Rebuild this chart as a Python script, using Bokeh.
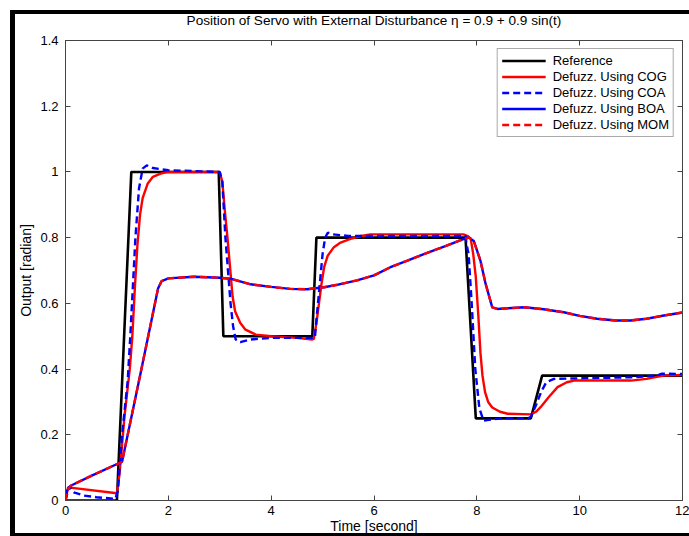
from bokeh.plotting import figure
from bokeh.models import FixedTicker, LinearAxis, Legend, LegendItem
from bokeh.embed import file_html
from bokeh.resources import INLINE

# ---------------- data ----------------
title_text = "Position of Servo with External Disturbance \u03b7 = 0.9 + 0.9 sin(t)"
x_label = "Time [second]"
y_label = "Output [radian]"
x_ticks = [0, 2, 4, 6, 8, 10, 12]
y_ticks = [0, 0.2, 0.4, 0.6, 0.8, 1.0, 1.2, 1.4]
y_tick_labels = ["0", "0.2", "0.4", "0.6", "0.8", "1", "1.2", "1.4"]
series_names = ["Reference", "Defuzz. Using COG", "Defuzz. Using COA",
                "Defuzz. Using BOA", "Defuzz. Using MOM"]

t_ref = [0, 1.0, 1.28, 2.98, 3.07, 4.80, 4.88, 7.78, 7.98, 9.05, 9.27, 12]
y_ref = [0, 0, 1.0, 1.0, 0.5, 0.5, 0.8, 0.8, 0.25, 0.25, 0.38, 0.38]

t_cog = [0, 0.05, 1.0, 1.05, 1.1, 1.15, 1.2, 1.25, 1.3, 1.35, 1.4, 1.45, 1.5,
         1.6, 1.7, 1.85, 2.0, 3.0, 3.05, 3.1, 3.15, 3.2, 3.25, 3.3, 3.4, 3.5,
         3.7, 4.0, 4.5, 4.8, 4.83, 4.88, 4.93, 4.98, 5.03, 5.1, 5.22, 5.35,
         5.54, 5.75, 5.93, 7.74, 7.82, 7.88, 7.93, 7.98, 8.03, 8.07, 8.11,
         8.16, 8.22, 8.3, 8.45, 8.6, 9.05, 9.15, 9.24, 9.4, 9.57, 9.75, 9.89,
         11.0, 11.3, 11.63, 12]
y_cog = [0, 0.04, 0.022, 0.08, 0.17, 0.26, 0.33, 0.40, 0.5, 0.65, 0.78, 0.87,
         0.92, 0.965, 0.985, 0.995, 1.0, 1.0, 0.97, 0.88, 0.8, 0.71, 0.62,
         0.575, 0.54, 0.52, 0.505, 0.5, 0.495, 0.49, 0.492, 0.54, 0.6, 0.66,
         0.71, 0.745, 0.771, 0.785, 0.796, 0.805, 0.81, 0.81, 0.805, 0.797,
         0.75, 0.68, 0.56, 0.45, 0.38, 0.33, 0.30, 0.283, 0.27, 0.264, 0.262,
         0.27, 0.284, 0.315, 0.345, 0.36, 0.365, 0.365, 0.37, 0.38, 0.382]

t_coa = [0, 0.07, 0.16, 0.36, 0.6, 0.97, 1.02, 1.1, 1.21, 1.26, 1.31, 1.36,
         1.43, 1.5, 1.58, 1.7, 2.0, 3.0, 3.05, 3.11, 3.16, 3.21, 3.26, 3.31,
         3.4, 3.6, 4.0, 4.85, 4.88, 4.94, 5.0, 5.05, 5.1, 5.2, 5.5, 7.78, 7.8,
         7.84, 7.9, 7.97, 8.05, 8.13, 8.2, 8.5, 9.0, 9.05, 9.15, 9.25, 9.35,
         9.5, 10.0, 11.0, 11.5, 11.6, 12]
y_coa = [0, 0.043, 0.025, 0.015, 0.01, 0.005, 0.03, 0.2, 0.365, 0.5, 0.65,
         0.8, 0.95, 1.01, 1.02, 1.012, 1.005, 1.0, 0.97, 0.8, 0.7, 0.6, 0.53,
         0.49, 0.482, 0.49, 0.495, 0.495, 0.55, 0.65, 0.75, 0.8, 0.815, 0.81,
         0.805, 0.805, 0.78, 0.75, 0.6, 0.4, 0.28, 0.243, 0.245, 0.25, 0.25,
         0.255, 0.29, 0.33, 0.36, 0.37, 0.372, 0.375, 0.38, 0.386, 0.385]

t_slow = [0, 0.03, 0.1, 0.5, 1.1, 1.45, 1.8, 1.87, 2.0, 2.5, 3.0, 3.21, 3.6,
          4.0, 4.37, 4.7, 5.03, 5.3, 5.67, 6.0, 6.32, 6.65, 6.97, 7.4, 7.75,
          7.85, 7.94, 8.07, 8.17, 8.3, 8.4, 8.6, 8.92, 9.3, 9.69, 10.0, 10.34,
          10.7, 10.99, 11.3, 11.64, 12]
y_boa = [0, 0.03, 0.045, 0.075, 0.118, 0.38, 0.645, 0.668, 0.676, 0.681,
         0.678, 0.675, 0.658, 0.65, 0.644, 0.643, 0.649, 0.657, 0.67, 0.685,
         0.71, 0.73, 0.75, 0.775, 0.796, 0.80, 0.79, 0.73, 0.66, 0.588, 0.583,
         0.585, 0.588, 0.582, 0.573, 0.562, 0.553, 0.548, 0.548, 0.553, 0.563,
         0.572]
y_mom = list(y_boa)

# ---------------- figure ----------------
FONT = "Liberation Sans"
p = figure(width=689, height=536, x_range=(0, 12), y_range=(0, 1.4),
           output_backend="svg", toolbar_location=None,
           min_border_left=65, min_border_right=7, min_border_top=40,
           min_border_bottom=36, title=title_text)
# black window frame drawn as CSS background behind a transparent border area
bar = "linear-gradient(#000, #000)"
p.styles = {"background": ", ".join([
    f"{bar} 10px 10px / 5px 526px no-repeat",
    f"{bar} 10px 10px / 679px 4px no-repeat",
    f"{bar} 10px 533px / 679px 3px no-repeat",
    "#ffffff"])}
p.border_fill_color = None
p.background_fill_color = "white"

p.title.align = "center"
p.title.vertical_align = "top"
p.title.standoff = 22
p.title.text_font = FONT
p.title.text_font_size = "13.6px"
p.title.text_font_style = "normal"
p.title.text_color = "black"

p.xgrid.visible = False
p.ygrid.visible = False
p.outline_line_color = "#444444"
p.outline_line_width = 1

def style_axis(ax, labels=True):
    ax.major_tick_in = 5
    ax.major_tick_out = 0
    ax.minor_tick_line_color = None
    ax.axis_line_color = "#444444"
    ax.major_tick_line_color = "#444444"
    ax.major_label_text_font = FONT
    if labels:
        ax.major_label_text_font_size = "13px"
        ax.major_label_text_color = "black"
    else:
        ax.major_label_text_font_size = "1px"
        ax.major_label_text_color = None
        ax.major_label_standoff = 0

xa = p.xaxis[0]
ya = p.yaxis[0]
xa.ticker = FixedTicker(ticks=x_ticks)
ya.ticker = FixedTicker(ticks=y_ticks)
ya.major_label_overrides = {v: s for v, s in zip(y_ticks, y_tick_labels)}
style_axis(xa)
style_axis(ya)
xa.major_label_standoff = 5
ya.major_label_standoff = 7
xa.axis_label = x_label
ya.axis_label = y_label
for ax in (xa, ya):
    ax.axis_label_text_font = FONT
    ax.axis_label_text_font_size = "14px"
    ax.axis_label_text_font_style = "normal"
    ax.axis_label_text_color = "black"
xa.axis_label_standoff = 0
ya.axis_label_standoff = 3

top_axis = LinearAxis(ticker=FixedTicker(ticks=x_ticks))
style_axis(top_axis, labels=False)
p.add_layout(top_axis, "above")
right_axis = LinearAxis(ticker=FixedTicker(ticks=y_ticks))
style_axis(right_axis, labels=False)
p.add_layout(right_axis, "right")

DASH = "7 4"
r_ref = p.line(t_ref, y_ref, line_color="black", line_width=2.6)
r_cog = p.line(t_cog, y_cog, line_color="#ff0000", line_width=2.4)
r_coa = p.line(t_coa, y_coa, line_color="#0000ff", line_width=2.4, line_dash=DASH)
r_boa = p.line(t_slow, y_boa, line_color="#0000ff", line_width=2.4)
r_mom = p.line(t_slow, y_mom, line_color="#ff0000", line_width=2.4, line_dash=DASH)

legend = Legend(items=[LegendItem(label=n, renderers=[r]) for n, r in
                       zip(series_names, [r_ref, r_cog, r_coa, r_boa, r_mom])],
                location="top_right")
legend.label_text_font = FONT
legend.label_text_font_size = "13px"
legend.label_text_color = "black"
legend.glyph_width = 44
legend.glyph_height = 15
legend.label_height = 15
legend.label_standoff = 7
legend.spacing = 1
legend.padding = 4
legend.margin = 8
legend.border_line_color = "#555555"
legend.border_line_width = 1
legend.background_fill_alpha = 1.0
p.add_layout(legend)

open("out.html", "w").write(file_html(p, INLINE))
